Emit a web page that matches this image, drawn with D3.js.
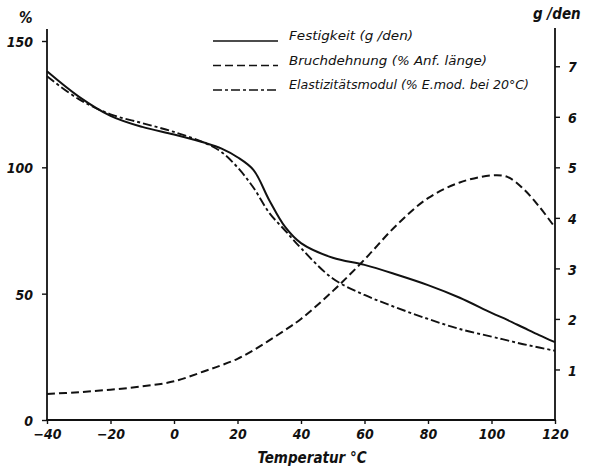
<!DOCTYPE html>
<html>
<head>
<meta charset="utf-8">
<script src="https://cdn.jsdelivr.net/npm/d3@7"></script>
<style>
  body { margin: 0; background: #fff; }
  svg text { fill: #111; }
  .tick text, .axlabel { font-family: "DejaVu Sans Condensed", "Liberation Sans Narrow", sans-serif; font-style: italic; font-weight: bold; }
  .legend text { font-family: "DejaVu Sans Condensed", "Liberation Sans Narrow", sans-serif; font-style: italic; font-size: 13px; }
</style>
</head>
<body>
<div id="chart"></div>
<script>
// temperatures (°C)
var temps = [-40, -30, -20, -10, 0, 10, 15, 20, 25, 30, 35, 40, 50, 60, 70, 80, 90, 100, 105, 110, 115, 120];

// Festigkeit (g/den), right axis
var festigkeit = [6.90, 6.40, 6.02, 5.80, 5.65, 5.48, 5.37, 5.20, 4.95, 4.35, 3.82, 3.50, 3.21, 3.07, 2.88, 2.67, 2.42, 2.12, 1.98, 1.83, 1.68, 1.54];

// Bruchdehnung (% Anfangslänge), left axis
var bruchdehnung = [10.3, 11.0, 12.0, 13.3, 15.3, 19.5, 21.7, 24.2, 27.6, 31.5, 35.6, 40, 51, 63.5, 77, 87.8, 94, 96.8, 96.2, 91.5, 84.5, 76.2];

// Elastizitätsmodul (% E-Modul bei 20°C), left axis
var emodul = [136, 127, 121, 117.5, 114, 109.5, 106, 100, 92, 82, 75, 68, 56, 49.5, 44.5, 40, 36, 33, 31.5, 30, 28.7, 27.4];

var xTicks = [-40, -20, 0, 20, 40, 60, 80, 100, 120];
var leftTicks = [0, 50, 100, 150];
var rightTicks = [1, 2, 3, 4, 5, 6, 7];

var legendItems = ["Festigkeit (g /den)", "Bruchdehnung (% Anf. länge)", "Elastizitätsmodul (% E.mod. bei 20°C)"];

var width = 601, height = 470;

var svg = d3.select("#chart").append("svg")
    .attr("width", width)
    .attr("height", height);

var x = d3.scaleLinear().domain([-40, 120]).range([47, 555]);
var yL = d3.scaleLinear().domain([0, 150]).range([420, 41]);
var yR = d3.scaleLinear().domain([0, 7.5]).range([420, 41]);

// axes
var gx = svg.append("g")
    .attr("transform", "translate(0,420)")
    .call(d3.axisBottom(x).tickValues(xTicks).tickSize(4).tickPadding(5));
gx.select(".domain").remove();
gx.selectAll(".tick text").style("font-size", "14px");

var gl = svg.append("g")
    .attr("transform", "translate(47,0)")
    .call(d3.axisLeft(yL).tickValues(leftTicks).tickSize(5).tickPadding(9));
gl.select(".domain").remove();
gl.selectAll(".tick text").style("font-size", "14px").attr("dy", "0.4em");

var gr = svg.append("g")
    .attr("transform", "translate(555,0)")
    .call(d3.axisRight(yR).tickValues(rightTicks).tickSize(5).tickPadding(8));
gr.select(".domain").remove();
gr.selectAll(".tick text").style("font-size", "14px").attr("dy", "0.4em");

svg.selectAll(".tick line").attr("stroke", "#111").attr("stroke-width", 1.4);

// axis lines
svg.append("line").attr("x1", 47).attr("x2", 47).attr("y1", 29).attr("y2", 421)
    .attr("stroke", "#111").attr("stroke-width", 1.8);
svg.append("line").attr("x1", 555).attr("x2", 555).attr("y1", 28).attr("y2", 421)
    .attr("stroke", "#111").attr("stroke-width", 1.8);
svg.append("line").attr("x1", 46).attr("x2", 556).attr("y1", 420).attr("y2", 420)
    .attr("stroke", "#111").attr("stroke-width", 1.8);

// axis labels
svg.append("text").attr("class", "axlabel").attr("x", 19).attr("y", 23)
    .style("font-size", "15px").text("%");
svg.append("text").attr("class", "axlabel").attr("x", 533).attr("y", 19)
    .style("font-size", "15px").text("g /den");
svg.append("text").attr("class", "axlabel").attr("x", 312).attr("y", 463)
    .attr("text-anchor", "middle").style("font-size", "15px").text("Temperatur °C");

// lines
var lineL = d3.line()
    .x(function(d) { return x(d[0]); })
    .y(function(d) { return yL(d[1]); })
    .curve(d3.curveCatmullRom.alpha(0.5));
var lineR = d3.line()
    .x(function(d) { return x(d[0]); })
    .y(function(d) { return yR(d[1]); })
    .curve(d3.curveCatmullRom.alpha(0.5));

var dashes = ["none", "8,4", "9,3,3,3"];

svg.append("path")
    .datum(d3.zip(temps, festigkeit))
    .attr("fill", "none").attr("stroke", "#111").attr("stroke-width", 2)
    .attr("d", lineR);

svg.append("path")
    .datum(d3.zip(temps, bruchdehnung))
    .attr("fill", "none").attr("stroke", "#111").attr("stroke-width", 2)
    .attr("stroke-dasharray", dashes[1])
    .attr("d", lineL);

svg.append("path")
    .datum(d3.zip(temps, emodul))
    .attr("fill", "none").attr("stroke", "#111").attr("stroke-width", 1.9)
    .attr("stroke-dasharray", dashes[2])
    .attr("d", lineL);

// legend
var legend = svg.append("g").attr("class", "legend");
var lens = [124, 198, 240];
legendItems.forEach(function(name, i) {
    var yy = 41 + i * 24.5;
    legend.append("line")
        .attr("x1", 213).attr("x2", 278).attr("y1", yy).attr("y2", yy)
        .attr("stroke", "#111").attr("stroke-width", 1.6)
        .attr("stroke-dasharray", dashes[i]);
    legend.append("text")
        .attr("x", 289).attr("y", yy - 1)
        .attr("textLength", lens[i]).attr("lengthAdjust", "spacingAndGlyphs")
        .text(name);
});
</script>
</body>
</html>
